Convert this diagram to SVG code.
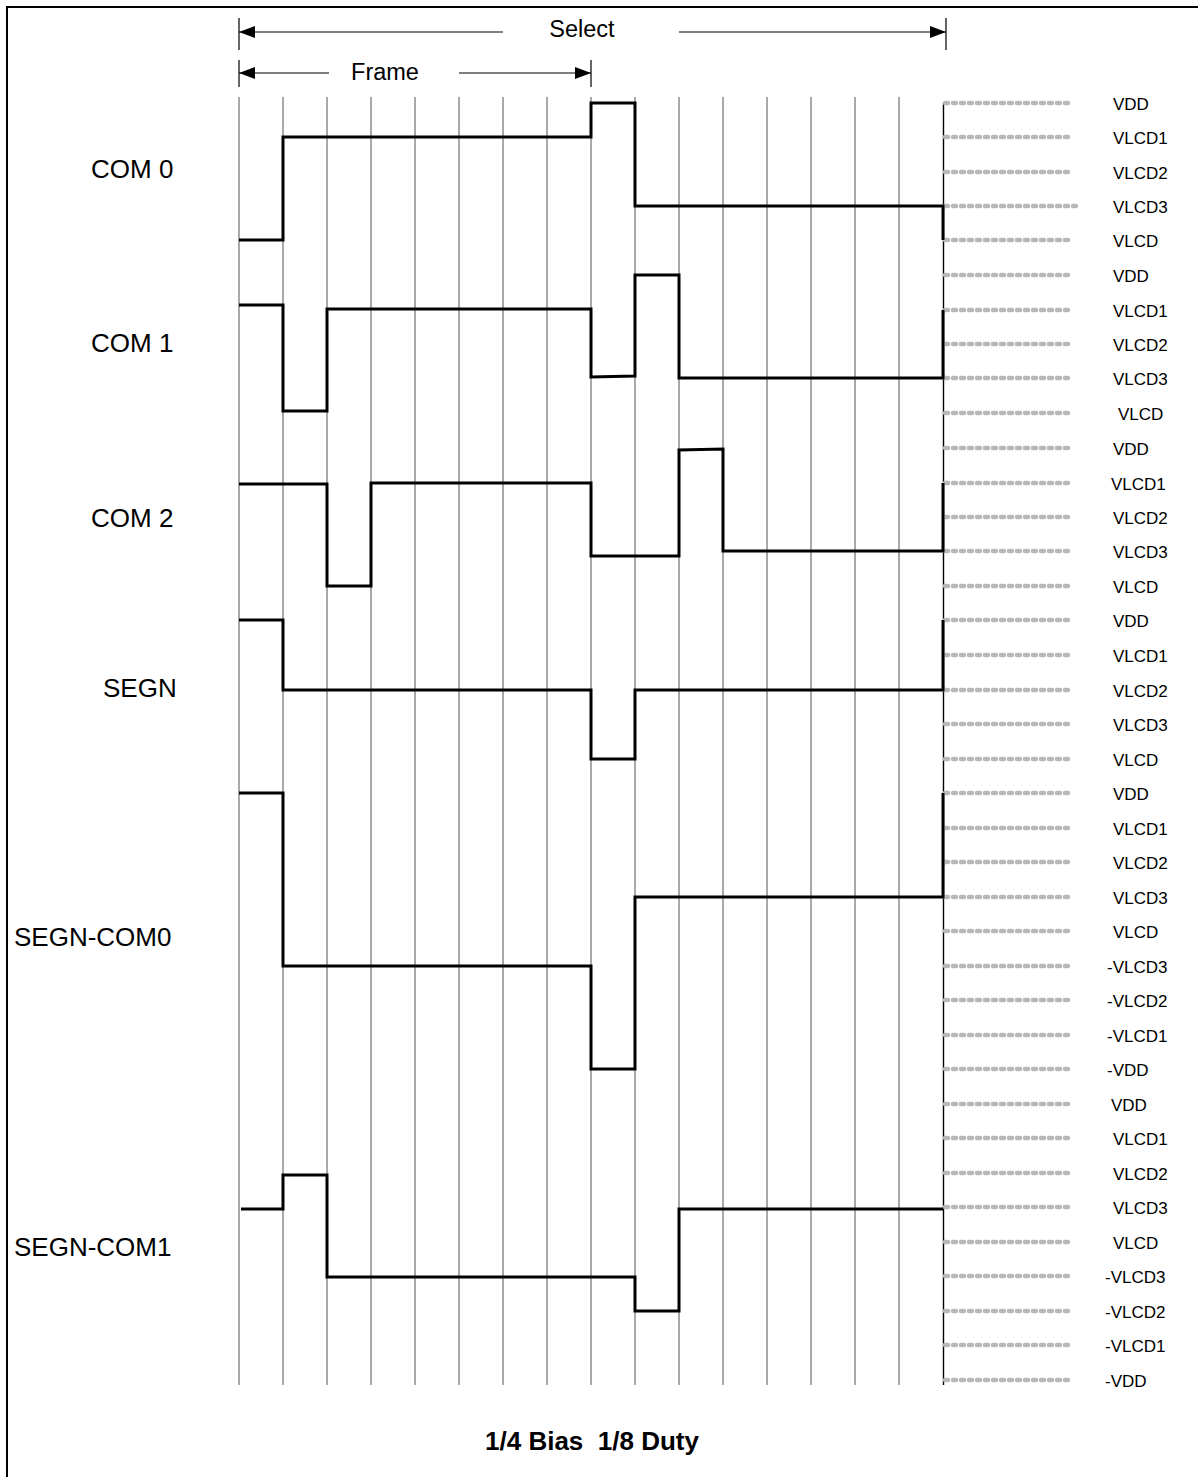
<svg xmlns="http://www.w3.org/2000/svg" width="1198" height="1477" viewBox="0 0 1198 1477">
<style>
.grid{stroke:#707070;stroke-width:1.2;fill:none}
.wave{stroke:#000;stroke-width:3;fill:none;stroke-linejoin:miter}
.dot{stroke:#b8b8b8;stroke-width:4.5;stroke-dasharray:3 5;stroke-linecap:round;fill:none}
.tick{stroke:#000;stroke-width:1.2}
.arr{stroke:#000;stroke-width:1.2;fill:none}
.lv{font-family:"Liberation Sans",Arial,sans-serif;font-size:17px;fill:#000}
.lab{font-family:"Liberation Sans",Arial,sans-serif;font-size:26px;fill:#000}
.top{font-family:"Liberation Sans",Arial,sans-serif;font-size:23.5px;fill:#000}
.ttl{font-family:"Liberation Sans",Arial,sans-serif;font-size:26px;font-weight:bold;fill:#000;white-space:pre}
</style>
<defs>
<marker id="ah" viewBox="0 0 16 12" refX="16" refY="6" markerWidth="16" markerHeight="12" markerUnits="userSpaceOnUse" orient="auto-start-reverse">
<path d="M0,0 L16,6 L0,12 z" fill="#000"/>
</marker>
</defs>
<rect x="7" y="7" width="1300" height="1600" fill="none" stroke="#000" stroke-width="2"/>

<g id="grid">
<path class="grid" d="M239,97V1385M283,97V1385M327,97V1385M371,97V1385M415,97V1385M459,97V1385M503,97V1385M547,97V1385M591,97V1385M635,97V1385M679,97V1385M723,97V1385M767,97V1385M811,97V1385M855,97V1385M899,97V1385"/>
<path d="M943.5,103V1385" stroke="#000" stroke-width="1.4"/>
</g>

<g id="dimensions">
<path class="tick" d="M239,18V50M946,18V50M239,60V87M591,60V87"/>
<line class="arr" x1="503" y1="32" x2="239" y2="32" marker-end="url(#ah)"/>
<line class="arr" x1="679" y1="32" x2="946" y2="32" marker-end="url(#ah)"/>
<line class="arr" x1="329" y1="73" x2="239" y2="73" marker-end="url(#ah)"/>
<line class="arr" x1="459" y1="73" x2="591" y2="73" marker-end="url(#ah)"/>
<text class="top" x="582" y="37" text-anchor="middle">Select</text>
<text class="top" x="385" y="80" text-anchor="middle">Frame</text>
</g>

<g id="levels">
<path class="dot" d="M945,103H1073M945,137H1073M945,172H1073M945,206H1078M945,240H1073M945,275H1073M945,310H1073M945,344H1073M945,378H1073M945,413H1073M945,448H1073M945,483H1073M945,517H1073M945,551H1073M945,586H1073M945,620H1073M945,655H1073M945,690H1073M945,724H1073M945,759H1073M945,793H1073M945,828H1073M945,862H1073M945,897H1073M945,931H1073M945,966H1073M945,1000H1073M945,1035H1073M945,1069H1073M945,1104H1073M945,1138H1073M945,1173H1073M945,1207H1073M945,1242H1073M945,1276H1073M945,1311H1073M945,1345H1073M945,1380H1073"/>
<text class="lv" x="1113" y="110">VDD</text>
<text class="lv" x="1113" y="144">VLCD1</text>
<text class="lv" x="1113" y="179">VLCD2</text>
<text class="lv" x="1113" y="213">VLCD3</text>
<text class="lv" x="1113" y="247">VLCD</text>
<text class="lv" x="1113" y="282">VDD</text>
<text class="lv" x="1113" y="317">VLCD1</text>
<text class="lv" x="1113" y="351">VLCD2</text>
<text class="lv" x="1113" y="385">VLCD3</text>
<text class="lv" x="1118" y="420">VLCD</text>
<text class="lv" x="1113" y="455">VDD</text>
<text class="lv" x="1111" y="490">VLCD1</text>
<text class="lv" x="1113" y="524">VLCD2</text>
<text class="lv" x="1113" y="558">VLCD3</text>
<text class="lv" x="1113" y="593">VLCD</text>
<text class="lv" x="1113" y="627">VDD</text>
<text class="lv" x="1113" y="662">VLCD1</text>
<text class="lv" x="1113" y="697">VLCD2</text>
<text class="lv" x="1113" y="731">VLCD3</text>
<text class="lv" x="1113" y="766">VLCD</text>
<text class="lv" x="1113" y="800">VDD</text>
<text class="lv" x="1113" y="835">VLCD1</text>
<text class="lv" x="1113" y="869">VLCD2</text>
<text class="lv" x="1113" y="904">VLCD3</text>
<text class="lv" x="1113" y="938">VLCD</text>
<text class="lv" x="1107" y="973">-VLCD3</text>
<text class="lv" x="1107" y="1007">-VLCD2</text>
<text class="lv" x="1107" y="1042">-VLCD1</text>
<text class="lv" x="1107" y="1076">-VDD</text>
<text class="lv" x="1111" y="1111">VDD</text>
<text class="lv" x="1113" y="1145">VLCD1</text>
<text class="lv" x="1113" y="1180">VLCD2</text>
<text class="lv" x="1113" y="1214">VLCD3</text>
<text class="lv" x="1113" y="1249">VLCD</text>
<text class="lv" x="1105" y="1283">-VLCD3</text>
<text class="lv" x="1105" y="1318">-VLCD2</text>
<text class="lv" x="1105" y="1352">-VLCD1</text>
<text class="lv" x="1105" y="1387">-VDD</text>
</g>

<g id="com0">
<text class="lab" x="91" y="178">COM 0</text>
<path class="wave" d="M239,240H283V137H591V103H635V206H943V240"/>
</g>
<g id="com1">
<text class="lab" x="91" y="352">COM 1</text>
<path class="wave" d="M239,305H283V411H327V309H591V377L635,376V275H679V378H943V310"/>
</g>
<g id="com2">
<text class="lab" x="91" y="527">COM 2</text>
<path class="wave" d="M239,484H327V586H371V483H591V556H679V450L723,449V551H943V483"/>
</g>
<g id="segn">
<text class="lab" x="103" y="697">SEGN</text>
<path class="wave" d="M239,620H283V690H591V759H635V690H943V620"/>
</g>
<g id="segn-com0">
<text class="lab" x="14" y="946">SEGN-COM0</text>
<path class="wave" d="M239,793H283V966H591V1069H635V897H943V793"/>
</g>
<g id="segn-com1">
<text class="lab" x="14" y="1256">SEGN-COM1</text>
<path class="wave" d="M241,1209H283V1175H327V1277H635V1311H679V1209H943"/>
</g>

<text class="ttl" x="592" y="1450" text-anchor="middle">1/4 Bias  1/8 Duty</text>
</svg>
